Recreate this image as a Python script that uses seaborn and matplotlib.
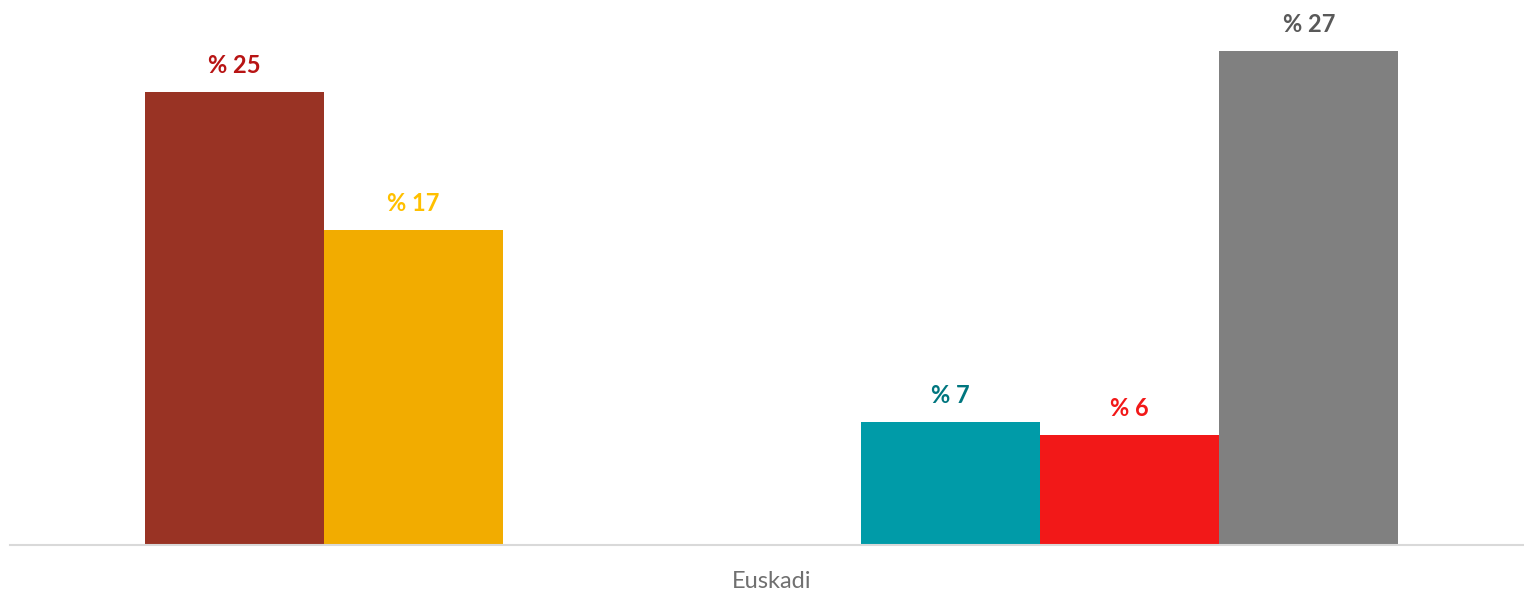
import matplotlib
matplotlib.use("Agg")
import matplotlib.pyplot as plt
import seaborn as sns
import pandas as pd

# data (one region, seven series, two empty)
categories = ["Euskadi"]
series = ["S1", "S2", "S3", "S4", "S5", "S6", "S7"]
values = [24.75, 17.2, 0.0, 0.0, 6.7, 6.0, 27.0]
labels = ["% 25", "% 17", "", "", "% 7", "% 6", "% 27"]

bar_colors = ["#993324", "#F2AC00", "#FFFFFF", "#FFFFFF", "#009BA8", "#F21818", "#808080"]
label_colors = ["#B81414", "#FFC000", "#FFFFFF", "#FFFFFF", "#00767F", "#F21818", "#595959"]

df = pd.DataFrame({
    "region": categories * len(series),
    "series": series,
    "value": values,
})

sns.set_style("white")
plt.rcParams["font.family"] = ["Lato", "DejaVu Sans"]

fig = plt.figure(figsize=(15.24, 5.93), dpi=100)
ax = fig.add_axes([10 / 1524, 48 / 593, 1514 / 1524, 545 / 593])

sns.barplot(data=df, x="region", y="value", hue="series", hue_order=series,
            palette=bar_colors, width=0.828, saturation=1, ax=ax,
            legend=False, linewidth=0)

ax.set_xlim(-0.503, 0.497)
ax.set_ylim(0, 29.8)

# value labels above the bars
for patch, lab, col in zip(ax.patches, labels, label_colors):
    if not lab:
        continue
    x = patch.get_x() + patch.get_width() / 2
    ax.annotate(lab, (x, patch.get_height()), xytext=(0, 11),
                textcoords="offset points", ha="center", va="bottom",
                fontsize=17, fontweight="bold", color=col)

for side in ["top", "right", "left"]:
    ax.spines[side].set_visible(False)
ax.spines["bottom"].set_color("#D9D9D9")
ax.spines["bottom"].set_linewidth(1.5)
ax.set_yticks([])
ax.set_xlabel("")
ax.set_ylabel("")
ax.tick_params(axis="x", length=0, labelsize=17, labelcolor="#707070", pad=19)

plt.savefig("out.png", dpi=100)
